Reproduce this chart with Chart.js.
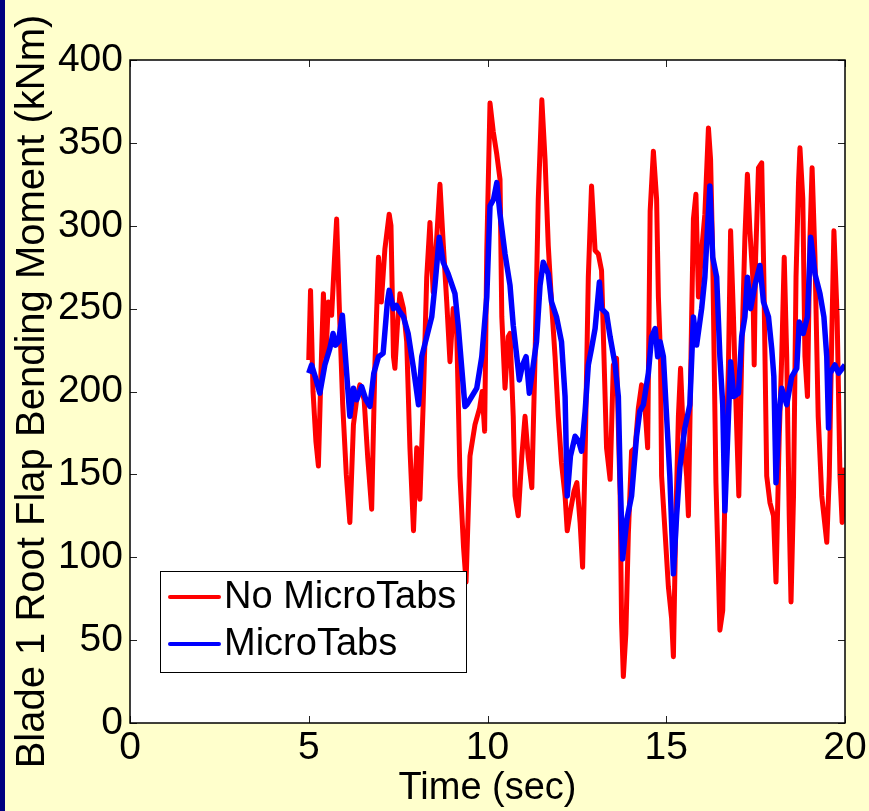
<!DOCTYPE html>
<html lang="en">
<head>
<meta charset="UTF-8">
<title>Blade 1 Root Flap Bending Moment</title>
<script src="https://cdn.jsdelivr.net/npm/chart.js@4.4.0/dist/chart.umd.min.js"></script>
<style>
  html, body { margin: 0; padding: 0; background: #ffffcc; }
  #wrap { width: 869px; height: 811px; }
</style>
</head>
<body>
<div id="wrap"><canvas id="chart" width="869" height="811"></canvas></div>
<script>
// No MicroTabs (red)
const noTabsTime = [5.00,5.05,5.12,5.20,5.27,5.34,5.41,5.48,5.55,5.64,5.72,5.78,5.85,5.95,6.05,6.15,6.25,6.34,6.43,6.55,
  6.65,6.76,6.85,6.95,7.03,7.13,7.25,7.30,7.37,7.41,7.48,7.55,7.65,7.74,7.83,7.93,8.02,8.11,8.20,8.30,
  8.39,8.48,8.58,8.67,8.76,8.86,8.95,9.04,9.14,9.23,9.33,9.40,9.51,9.65,9.78,9.85,9.92,9.98,10.07,10.16,
  10.26,10.35,10.40,10.49,10.58,10.63,10.72,10.77,10.86,10.96,11.05,11.14,11.24,11.33,11.42,11.52,11.61,11.70,11.79,11.89,
  11.98,12.07,12.17,12.23,12.32,12.42,12.50,12.59,12.66,12.73,12.82,12.91,13.01,13.10,13.19,13.24,13.33,13.43,13.52,13.61,
  13.71,13.75,13.80,13.87,13.94,14.03,14.13,14.22,14.31,14.40,14.48,14.55,14.64,14.73,14.78,14.84,14.87,14.97,15.06,15.15,
  15.20,15.27,15.34,15.40,15.48,15.57,15.62,15.71,15.76,15.83,15.90,15.99,16.08,16.18,16.24,16.30,16.35,16.39,16.46,16.50,
  16.58,16.64,16.74,16.80,16.88,16.95,17.03,17.11,17.20,17.27,17.34,17.42,17.46,17.50,17.58,17.67,17.73,17.81,17.90,18.00,
  18.07,18.16,18.23,18.30,18.37,18.44,18.49,18.56,18.63,18.70,18.74,18.82,18.88,18.95,19.02,19.08,19.16,19.25,19.35,19.49,
  19.56,19.63,19.69,19.78,19.86,19.92,20.00]
const noTabsMoment = [219,261,200,170,155,210,259,221,254,246,280,304,254,192,150,121,180,195,204,195,
  160,129,216,281,254,286,307,300,221,214,240,259,250,230,166,116,166,135,192,269,
  302,260,293,325,290,254,218,250,235,149,106,85,161,180,190,200,176,285,374,357,
  343,328,245,202,233,235,185,137,125,161,185,160,142,221,316,376,340,288,254,221,
  185,157,137,116,128,140,145,121,94,161,269,324,285,283,273,235,166,147,216,220,
  137,61,28,54,114,164,166,190,204,192,166,309,345,316,257,221,149,114,82,63,
  40,125,185,214,173,149,125,245,304,319,257,285,307,359,340,281,204,145,90,56,
  68,137,216,297,245,192,137,221,293,331,297,269,216,281,335,338,269,149,133,125,
  85,173,221,281,221,125,73,137,269,326,347,316,221,197,293,335,281,185,137,109,
  149,233,297,245,149,121,154]

// MicroTabs (blue)
const tabsTime = [5.00,5.08,5.18,5.31,5.45,5.59,5.68,5.75,5.83,5.94,6.06,6.15,6.25,6.34,6.48,6.60,6.71,6.82,6.95,7.08,
  7.20,7.25,7.37,7.45,7.55,7.65,7.78,7.93,8.07,8.16,8.30,8.44,8.53,8.65,8.76,8.90,9.09,9.18,9.28,9.37,
  9.42,9.56,9.70,9.84,9.98,10.07,10.17,10.26,10.35,10.49,10.63,10.72,10.82,10.89,10.98,11.08,11.17,11.28,11.37,11.47,
  11.56,11.70,11.79,11.93,12.07,12.17,12.23,12.32,12.45,12.55,12.63,12.73,12.82,12.91,13.01,13.13,13.19,13.33,13.43,13.57,
  13.66,13.71,13.78,13.90,14.03,14.17,14.26,14.36,14.50,14.59,14.69,14.76,14.83,14.92,15.01,15.10,15.20,15.29,15.38,15.52,
  15.66,15.76,15.85,15.99,16.08,16.22,16.30,16.41,16.50,16.58,16.64,16.74,16.80,16.89,17.02,17.11,17.20,17.27,17.36,17.48,
  17.62,17.72,17.86,17.95,18.01,18.07,18.16,18.23,18.37,18.51,18.65,18.72,18.83,18.95,19.04,19.16,19.30,19.41,19.49,19.54,
  19.58,19.72,19.82,20.00]
const tabsMoment = [211,216,209,199,216,226,235,228,230,246,211,185,202,195,203,195,191,211,221,223,
  254,261,250,252,248,245,235,214,192,221,233,245,264,293,278,271,259,240,214,191,
  192,197,202,221,257,312,316,326,307,283,264,240,221,207,216,221,199,216,230,264,
  278,271,254,245,230,197,137,161,173,170,164,188,216,226,238,266,250,247,233,216,
  197,149,99,123,137,173,188,192,211,233,238,221,230,221,185,149,90,125,154,178,
  192,245,228,250,269,324,281,269,221,192,128,185,218,197,199,233,245,269,250,264,
  276,254,245,226,209,145,188,202,192,209,214,242,235,245,293,271,259,245,221,178,
  211,216,211,216]

const xTicks = [0, 5, 10, 15, 20]
const yTicks = [0, 50, 100, 150, 200, 250, 300, 350, 400]

const FONT = '"Liberation Sans", Arial, sans-serif'

const toPoints = (ts, vs) => ts.map((t, i) => ({ x: t, y: vs[i] }))

// matlab-ish frame: yellow page, navy edge, white box, inward ticks, legend box
const matlabFrame = {
  id: 'matlabFrame',
  beforeDraw(chart) {
    const c = chart.ctx, a = chart.chartArea
    c.save()
    c.fillStyle = '#ffffcc'
    c.fillRect(0, 0, chart.width, chart.height)
    c.fillStyle = '#000080'
    c.fillRect(0, 0, 5, chart.height)
    c.fillStyle = '#ffffff'
    c.fillRect(a.left, a.top, a.right - a.left, a.bottom - a.top)
    c.restore()
  },
  afterDatasetsDraw(chart) {
    const c = chart.ctx, a = chart.chartArea
    const xs = chart.scales.x, ys = chart.scales.y
    const tl = 7
    c.save()
    c.strokeStyle = '#222'
    c.lineWidth = 1
    c.beginPath()
    xTicks.forEach(v => {
      const px = Math.round(xs.getPixelForValue(v)) + 0.5
      c.moveTo(px, a.bottom); c.lineTo(px, a.bottom - tl)
      c.moveTo(px, a.top); c.lineTo(px, a.top + tl)
    })
    yTicks.forEach(v => {
      const py = Math.round(ys.getPixelForValue(v)) + 0.5
      c.moveTo(a.left, py); c.lineTo(a.left + tl, py)
      c.moveTo(a.right, py); c.lineTo(a.right - tl, py)
    })
    c.stroke()
    c.strokeStyle = '#000'
    c.lineWidth = 1.5
    c.strokeRect(a.left, a.top, a.right - a.left, a.bottom - a.top)
    c.restore()
  },
  afterDraw(chart) {
    const c = chart.ctx, a = chart.chartArea
    const x0 = a.left + 30, y0 = a.bottom - 152, w = 306, h = 101
    c.save()
    c.fillStyle = '#fff'
    c.fillRect(x0, y0, w, h)
    c.strokeStyle = '#000'
    c.lineWidth = 1
    c.strokeRect(x0 + 0.5, y0 + 0.5, w, h)
    c.font = '38px ' + FONT
    c.textBaseline = 'middle'
    c.lineCap = 'round'
    chart.data.datasets.forEach((ds, i) => {
      const cy = y0 + 26 + i * 47
      c.strokeStyle = ds.borderColor
      c.lineWidth = 4
      c.beginPath()
      c.moveTo(x0 + 10, cy); c.lineTo(x0 + 59, cy)
      c.stroke()
      c.fillStyle = '#000'
      c.fillText(ds.label, x0 + 64, cy + 1)
    })
    c.restore()
  }
}

const ctx = document.getElementById('chart').getContext('2d')
const chart = new Chart(ctx, {
  type: 'line',
  data: {
    datasets: [{
      label: 'No MicroTabs',
      data: toPoints(noTabsTime, noTabsMoment),
      borderColor: '#ff0000',
      borderWidth: 5,
      borderJoinStyle: 'round',
      pointRadius: 0,
      tension: 0,
      order: 1
    }, {
      label: 'MicroTabs',
      data: toPoints(tabsTime, tabsMoment),
      borderColor: '#0000ff',
      borderWidth: 5.5,
      borderJoinStyle: 'round',
      pointRadius: 0,
      tension: 0,
      order: 0
    }]
  },
  options: {
    responsive: false,
    animation: false,
    layout: { padding: { top: 60, right: 24, left: 0, bottom: 0 } },
    plugins: { legend: { display: false }, tooltip: { enabled: false } },
    scales: {
      x: {
        type: 'linear',
        min: 0, max: 20,
        afterBuildTicks: s => { s.ticks = xTicks.map(v => ({ value: v })) },
        afterFit: s => { s.height = 88 },
        grid: { display: false, drawTicks: false },
        border: { display: false },
        ticks: { color: '#000', padding: 2, font: { family: FONT, size: 39 } },
        title: { display: true, text: 'Time (sec)', color: '#000', padding: 0, font: { family: FONT, size: 38 } }
      },
      y: {
        type: 'linear',
        min: 0, max: 400,
        afterBuildTicks: s => { s.ticks = yTicks.map(v => ({ value: v })) },
        afterFit: s => { s.width = 130 },
        grid: { display: false, drawTicks: false },
        border: { display: false },
        ticks: { color: '#000', padding: 7, font: { family: FONT, size: 39 } },
        title: { display: true, text: 'Blade 1 Root Flap Bending Moment (kNm)', color: '#000', padding: { top: 9, bottom: 0 }, font: { family: FONT, size: 40 } }
      }
    }
  },
  plugins: [matlabFrame]
})
</script>
</body>
</html>
